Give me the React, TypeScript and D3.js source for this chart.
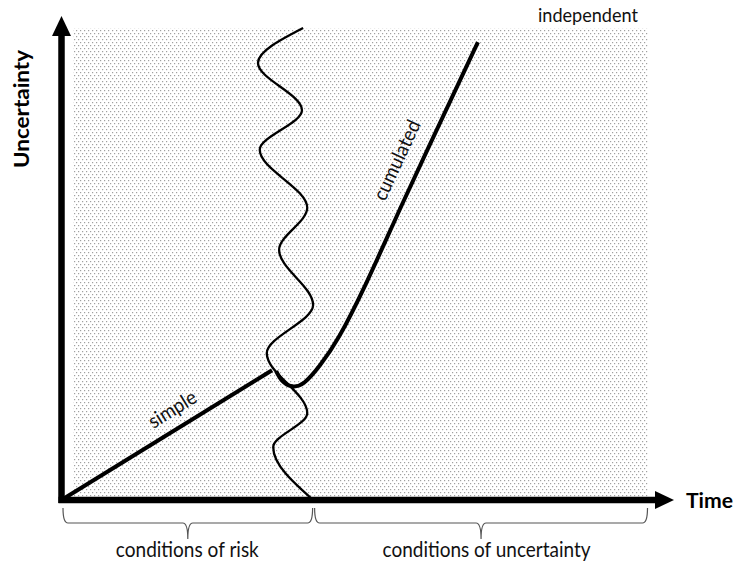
import React from "react";
import * as d3 from "d3";

// Data (abstract units: time 0-100, uncertainty 0-100)
const simpleLine: [number, number][] = [
  [0, 0],
  [35.9, 27.5],
];
const cumulatedCurve: [number, number][] = [
  [36.6, 27.3],
  [37.6, 25.3],
  [39.3, 24.1],
  [41.4, 24.9],
  [44.1, 28.6],
  [47.4, 34.8],
  [51.9, 45.8],
  [57.0, 59.7],
  [62.5, 74.5],
  [71.0, 97.0],
];
const boundaryWave: [number, number][] = [
  [41.2, 100],
  [33.5, 92.6],
  [41.0, 82.6],
  [33.8, 74.2],
  [41.9, 61.9],
  [37.1, 53.0],
  [42.9, 41.3],
  [35.0, 31.1],
  [41.9, 18.4],
  [36.1, 11.2],
  [42.9, 0],
];
const braceRanges: [number, number][] = [
  [0, 42.9],
  [42.9, 100],
];
const braceLabels = ["conditions of risk", "conditions of uncertainty"];
const braceLabelWidths = [143, 208];
const axisLabels = { x: "Time", y: "Uncertainty" };
const curveLabels = ["simple", "cumulated", "independent"];

const W = 736;
const H = 563;

export default function App() {
  const x = d3.scaleLinear().domain([0, 100]).range([61.5, 648]);
  const y = d3.scaleLinear().domain([0, 100]).range([500, 28]);

  const straight = d3
    .line<[number, number]>()
    .x((d) => x(d[0]))
    .y((d) => y(d[1]));
  const smooth = d3
    .line<[number, number]>()
    .x((d) => x(d[0]))
    .y((d) => y(d[1]))
    .curve(d3.curveNatural);
  const wave = d3
    .line<[number, number]>()
    .x((d) => x(d[0]))
    .y((d) => y(d[1]))
    .curve(d3.curveMonotoneY);

  const y0 = 508,
    ym = 523,
    yt = 539;
  const brace = (a: number, b: number) => {
    const x0 = x(a) + 1.5,
      x1 = x(b) - 0.5,
      xc = (x0 + x1) / 2;
    return `M${x0},${y0} Q${x0},${ym} ${x0 + 5},${ym} L${xc - 5},${ym} Q${xc},${ym} ${xc},${yt} Q${xc},${ym} ${xc + 5},${ym} L${x1 - 5},${ym} Q${x1},${ym} ${x1},${y0}`;
  };

  const sA = simpleLine[0],
    sB = simpleLine[1];
  const simpleAngle =
    (Math.atan2(y(sB[1]) - y(sA[1]), x(sB[0]) - x(sA[0])) * 180) / Math.PI;
  const cA = cumulatedCurve[6],
    cB = cumulatedCurve[9];
  const cumAngle =
    (Math.atan2(y(cB[1]) - y(cA[1]), x(cB[0]) - x(cA[0])) * 180) / Math.PI;

  const font = "Lato, 'Open Sans', sans-serif";
  const ox = x(0),
    oy = y(0);

  return (
    <svg
      width={W}
      height={H}
      style={{ position: "absolute", left: 0, top: 0, background: "#fff" }}
    >
      <defs>
        <pattern id="dots" width={4} height={6} patternUnits="userSpaceOnUse">
          <rect x={0} y={0} width={1.2} height={1.2} fill="#a0a0a0" />
          <rect x={2} y={3} width={1.2} height={1.2} fill="#a0a0a0" />
        </pattern>
      </defs>
      <rect
        x={73}
        y={y(100)}
        width={x(100) - 73}
        height={oy - y(100)}
        fill="url(#dots)"
      />

      <path d={wave(boundaryWave) || ""} fill="none" stroke="#000" strokeWidth={2.3} />
      <path d={straight(simpleLine) || ""} fill="none" stroke="#000" strokeWidth={4} />
      <path
        d={smooth(cumulatedCurve) || ""}
        fill="none"
        stroke="#000"
        strokeWidth={4}
      />

      <line x1={ox} y1={oy + 3} x2={ox} y2={35} stroke="#000" strokeWidth={6.5} />
      <polygon points={`${ox},16 ${ox - 9.5},36 ${ox + 9.5},36`} fill="#000" />
      <line x1={ox - 3} y1={oy} x2={656} y2={oy} stroke="#000" strokeWidth={6.5} />
      <polygon points={`674,${oy} 655,${oy - 9} 655,${oy + 9}`} fill="#000" />

      {braceRanges.map((r, i) => (
        <g key={i}>
          <path d={brace(r[0], r[1])} fill="none" stroke="#555" strokeWidth={1.2} />
          <text
            x={(x(r[0]) + x(r[1])) / 2 + (i === 1 ? 6 : 0)}
            y={557}
            textAnchor="middle"
            fontFamily={font}
            fontSize={20.5}
            textLength={braceLabelWidths[i]}
            lengthAdjust="spacingAndGlyphs"
            fill="#111"
          >
            {braceLabels[i]}
          </text>
        </g>
      ))}

      <text
        x={686}
        y={508}
        fontFamily={font}
        fontWeight="bold"
        fontSize={21}
        textLength={47}
        lengthAdjust="spacingAndGlyphs"
      >
        {axisLabels.x}
      </text>
      <text
        transform={`translate(29,109) rotate(-90)`}
        textAnchor="middle"
        fontFamily={font}
        fontWeight="bold"
        fontSize={20}
        textLength={118}
        lengthAdjust="spacingAndGlyphs"
      >
        {axisLabels.y}
      </text>

      <text
        transform={`translate(176,415) rotate(${simpleAngle})`}
        textAnchor="middle"
        fontFamily={font}
        fontSize={20}
        textLength={53}
        lengthAdjust="spacingAndGlyphs"
        fill="#111"
      >
        {curveLabels[0]}
      </text>
      <text
        transform={`translate(403,163) rotate(${cumAngle})`}
        textAnchor="middle"
        fontFamily={font}
        fontSize={20}
        textLength={86}
        lengthAdjust="spacingAndGlyphs"
        fill="#111"
      >
        {curveLabels[1]}
      </text>
      <text
        x={538}
        y={22}
        fontFamily={font}
        fontSize={19.5}
        textLength={100}
        lengthAdjust="spacingAndGlyphs"
        fill="#111"
      >
        {curveLabels[2]}
      </text>
    </svg>
  );
}
